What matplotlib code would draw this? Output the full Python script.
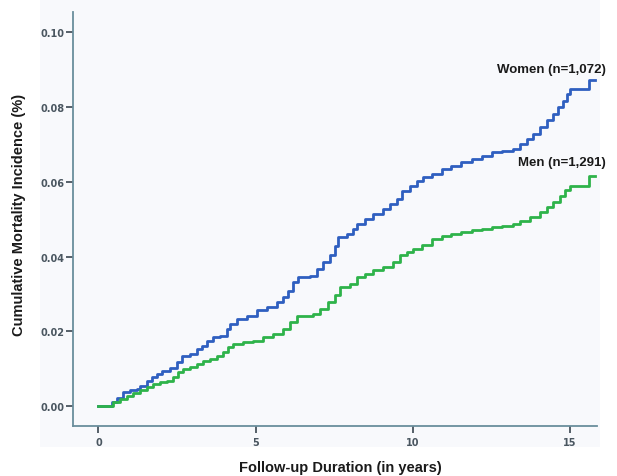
import matplotlib
matplotlib.use("Agg")
import matplotlib.pyplot as plt
from matplotlib.patches import Rectangle

# Kaplan-Meier style cumulative incidence (years, proportion)
women_t = [0.0, 0.42, 0.58, 0.79, 1.01, 1.22, 1.32, 1.54, 1.70, 1.85, 2.01, 2.28,
           2.49, 2.65, 2.91, 3.13, 3.29, 3.44, 3.65, 3.87, 4.08, 4.19, 4.40, 4.72,
           5.03, 5.35, 5.67, 5.88, 6.04, 6.20, 6.36, 6.73, 6.94, 7.15, 7.37, 7.52,
           7.63, 7.90, 8.11, 8.22, 8.48, 8.74, 9.06, 9.27, 9.49, 9.65, 9.91, 10.12,
           10.33, 10.60, 10.92, 11.23, 11.55, 11.87, 12.19, 12.51, 12.83, 13.20,
           13.41, 13.62, 13.83, 14.05, 14.26, 14.47, 14.63, 14.79, 14.90, 15.00,
           15.60, 15.80]
women_v = [0.0, 0.0011, 0.0021, 0.0037, 0.0042, 0.0046, 0.0055, 0.0068, 0.0078,
           0.0086, 0.0095, 0.0102, 0.0118, 0.0135, 0.0140, 0.0153, 0.0162, 0.0175,
           0.0184, 0.0189, 0.0207, 0.0220, 0.0233, 0.0242, 0.0256, 0.0265, 0.0278,
           0.0291, 0.0309, 0.0332, 0.0345, 0.0349, 0.0367, 0.0385, 0.0403, 0.0429,
           0.0452, 0.0461, 0.0474, 0.0487, 0.0501, 0.0514, 0.0527, 0.0541, 0.0554,
           0.0576, 0.0590, 0.0603, 0.0612, 0.0621, 0.0634, 0.0643, 0.0652, 0.0661,
           0.0670, 0.0679, 0.0683, 0.0688, 0.0701, 0.0715, 0.0728, 0.0746, 0.0764,
           0.0782, 0.0799, 0.0817, 0.0835, 0.0848, 0.0873, 0.0873]

men_t = [0.0, 0.47, 0.69, 0.90, 1.11, 1.32, 1.54, 1.75, 1.96, 2.17, 2.38, 2.54,
         2.70, 2.91, 3.13, 3.34, 3.55, 3.76, 3.97, 4.13, 4.29, 4.61, 4.93, 5.25,
         5.56, 5.88, 6.09, 6.31, 6.84, 7.05, 7.31, 7.52, 7.68, 8.00, 8.22, 8.48,
         8.74, 9.06, 9.38, 9.59, 9.81, 10.02, 10.28, 10.60, 10.92, 11.23, 11.55,
         11.87, 12.19, 12.51, 12.83, 13.20, 13.41, 13.73, 14.05, 14.26, 14.47,
         14.68, 14.84, 15.00, 15.60, 15.80]
men_v = [0.0, 0.0011, 0.0020, 0.0028, 0.0036, 0.0042, 0.0051, 0.0060, 0.0064,
         0.0068, 0.0078, 0.0091, 0.0100, 0.0104, 0.0113, 0.0122, 0.0126, 0.0135,
         0.0144, 0.0158, 0.0167, 0.0171, 0.0175, 0.0184, 0.0193, 0.0207, 0.0225,
         0.0242, 0.0247, 0.0260, 0.0278, 0.0296, 0.0318, 0.0327, 0.0345, 0.0354,
         0.0363, 0.0372, 0.0385, 0.0403, 0.0412, 0.0421, 0.0430, 0.0447, 0.0456,
         0.0461, 0.0465, 0.0470, 0.0474, 0.0479, 0.0483, 0.0487, 0.0496, 0.0505,
         0.0519, 0.0532, 0.0545, 0.0563, 0.0577, 0.0590, 0.0615, 0.0615]

x_ticks = [0, 5, 10, 15]
y_ticks = [0.00, 0.02, 0.04, 0.06, 0.08, 0.10]

label_font = ["Liberation Sans", "DejaVu Sans"]

fig = plt.figure(figsize=(6.17, 4.77), dpi=100)
# faint chart-area background behind the axes
fig.patches.append(Rectangle((40 / 617, 29 / 477), 560 / 617, 448 / 477,
                             transform=fig.transFigure, facecolor="#f8f9fc",
                             edgecolor="none", zorder=-10))
ax = fig.add_axes([0.1183, 0.1048, 0.8487, 0.8672])
ax.set_facecolor("none")

ax.plot(women_t, women_v, drawstyle="steps-post", color="#2f5fc0", lw=2.0)
ax.plot(men_t, men_v, drawstyle="steps-post", color="#2eb34a", lw=2.0)

ax.set_xlim(-0.81, 15.85)
ax.set_ylim(-0.0053, 0.1053)
ax.set_xticks(x_ticks)
ax.set_yticks(y_ticks)
ax.set_xticklabels([str(t) for t in x_ticks])
ax.set_yticklabels(["%.2f" % v for v in y_ticks])

for s in ["top", "right"]:
    ax.spines[s].set_visible(False)
for s in ["left", "bottom"]:
    ax.spines[s].set_color("#6a8e9c")
    ax.spines[s].set_linewidth(1.3)

ax.tick_params(axis="both", colors="#3a4650", labelsize=7, width=1.2, length=5)
ax.tick_params(axis="x", pad=3)
ax.tick_params(axis="y", pad=1)
for lab in ax.get_xticklabels() + ax.get_yticklabels():
    lab.set_fontweight("bold")
    lab.set_color("#4a5660")

ax.text(12.68, 0.0902, "Women (n=1,072)", family=label_font, fontweight="bold",
        fontsize=9.5, va="center", ha="left", color="#1a1a1a", clip_on=False)
ax.text(13.35, 0.0653, "Men (n=1,291)", family=label_font, fontweight="bold",
        fontsize=9.5, va="center", ha="left", color="#1a1a1a", clip_on=False)

fig.text(340 / 617, 1 - 468 / 477, "Follow-up Duration (in years)", family=label_font,
         fontweight="bold", fontsize=10.5, ha="center", va="center", color="#1a1a1a")
fig.text(19 / 617, 1 - 215 / 477, "Cumulative Mortality Incidence (%)", family=label_font,
         fontweight="bold", fontsize=10.5, ha="center", va="center", rotation=90,
         color="#1a1a1a")

fig.savefig("out.png", dpi=100)
